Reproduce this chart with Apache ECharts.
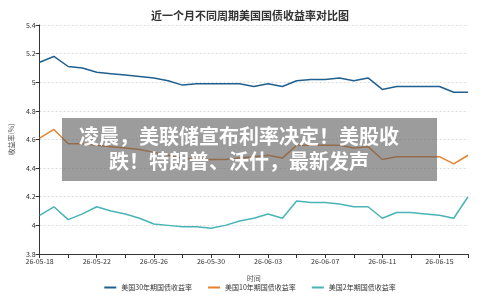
<!DOCTYPE html>
<html>
<head>
<meta charset="utf-8">
<script src="https://cdn.jsdelivr.net/npm/echarts@6/dist/echarts.min.js"></script>
<style>
  html, body { margin: 0; padding: 0; background: #fff; }
  #chart { width: 500px; height: 299px; }
</style>
</head>
<body>
<div id="chart"></div>
<script>
// dates 26-05-18 .. 26-06-17
var dates = [
  '26-05-18','26-05-19','26-05-20','26-05-21','26-05-22','26-05-23','26-05-24','26-05-25',
  '26-05-26','26-05-27','26-05-28','26-05-29','26-05-30','26-05-31','26-06-01','26-06-02',
  '26-06-03','26-06-04','26-06-05','26-06-06','26-06-07','26-06-08','26-06-09','26-06-10',
  '26-06-11','26-06-12','26-06-13','26-06-14','26-06-15','26-06-16','26-06-17'
];
var y30 = [5.14,5.18,5.11,5.10,5.07,5.06,5.05,5.04,5.03,5.01,4.98,4.99,4.99,4.99,4.99,4.97,
           4.99,4.97,5.01,5.02,5.02,5.03,5.01,5.03,4.95,4.97,4.97,4.97,4.97,4.93,4.93];
var y10 = [4.61,4.67,4.57,4.57,4.56,4.55,4.54,4.53,4.51,4.49,4.47,4.46,4.46,4.46,4.47,4.48,
           4.49,4.47,4.56,4.56,4.56,4.56,4.54,4.55,4.46,4.48,4.48,4.48,4.48,4.43,4.49];
var y2 = [4.07,4.13,4.04,4.08,4.13,4.10,4.08,4.05,4.01,4.00,3.99,3.99,3.98,4.00,4.03,4.05,
          4.08,4.05,4.17,4.16,4.16,4.15,4.13,4.13,4.05,4.09,4.09,4.08,4.07,4.05,4.20];
var seriesNames = ['美国30年期国债收益率','美国10年期国债收益率','美国2年期国债收益率'];
var colors = ['#21608e','#e8822e','#48b4b6'];

var font = '"Noto Sans CJK SC", sans-serif';

var option = {
    animation: false,
    color: colors,
    textStyle: { fontFamily: font },
    title: {
        text: '近一个月不同周期美国国债收益率对比图',
        left: 'center',
        top: 5,
        textStyle: { fontSize: 11, fontWeight: 'bold', color: '#333', fontFamily: font }
    },
    legend: {
        bottom: 3,
        left: 'center',
        itemWidth: 12,
        itemHeight: 2,
        itemGap: 16,
        icon: 'rect',
        textStyle: { fontSize: 7, color: '#333' },
        data: seriesNames
    },
    grid: { left: 32, right: 32, top: 25, bottom: 45 },
    xAxis: {
        type: 'category',
        data: dates,
        boundaryGap: false,
        name: '时间',
        nameLocation: 'middle',
        nameGap: 21,
        nameTextStyle: { fontSize: 7, color: '#555' },
        axisLine: { lineStyle: { color: '#333' } },
        axisTick: { interval: 1, length: 4, lineStyle: { color: '#333' } },
        axisLabel: { interval: 3, fontSize: 7, color: '#333', margin: 4 }
    },
    yAxis: {
        type: 'value',
        min: 3.8,
        max: 5.4,
        interval: 0.2,
        name: '收益率(%)',
        nameLocation: 'middle',
        nameGap: 22,
        nameTextStyle: { fontSize: 7, color: '#555' },
        axisLine: { show: true, lineStyle: { color: '#333' } },
        axisTick: { show: true, length: 4, lineStyle: { color: '#333' } },
        axisLabel: { fontSize: 7, color: '#333', margin: 4 },
        splitLine: { lineStyle: { color: '#ddd', type: [2, 2] } }
    },
    series: [
        { name: seriesNames[0], type: 'line', data: y30, showSymbol: false, lineStyle: { width: 1.5 } },
        { name: seriesNames[1], type: 'line', data: y10, showSymbol: false, lineStyle: { width: 1.5 } },
        { name: seriesNames[2], type: 'line', data: y2, showSymbol: false, lineStyle: { width: 1.5 } }
    ],
    graphic: [
        {
            type: 'rect',
            z: 100,
            shape: { x: 62, y: 118, width: 375, height: 63 },
            style: { fill: 'rgba(95,95,95,0.62)' }
        },
        {
            type: 'text',
            z: 101,
            x: 239,
            y: 149,
            style: {
                text: '凌晨，美联储宣布利率决定！美股收\n跌！特朗普、沃什，最新发声',
                fill: '#fff',
                font: 'bold 20px "Noto Sans CJK SC", sans-serif',
                align: 'center',
                verticalAlign: 'middle',
                lineHeight: 25
            }
        }
    ]
};

var myChart = echarts.init(document.getElementById('chart'));
myChart.setOption(option);
</script>
</body>
</html>
